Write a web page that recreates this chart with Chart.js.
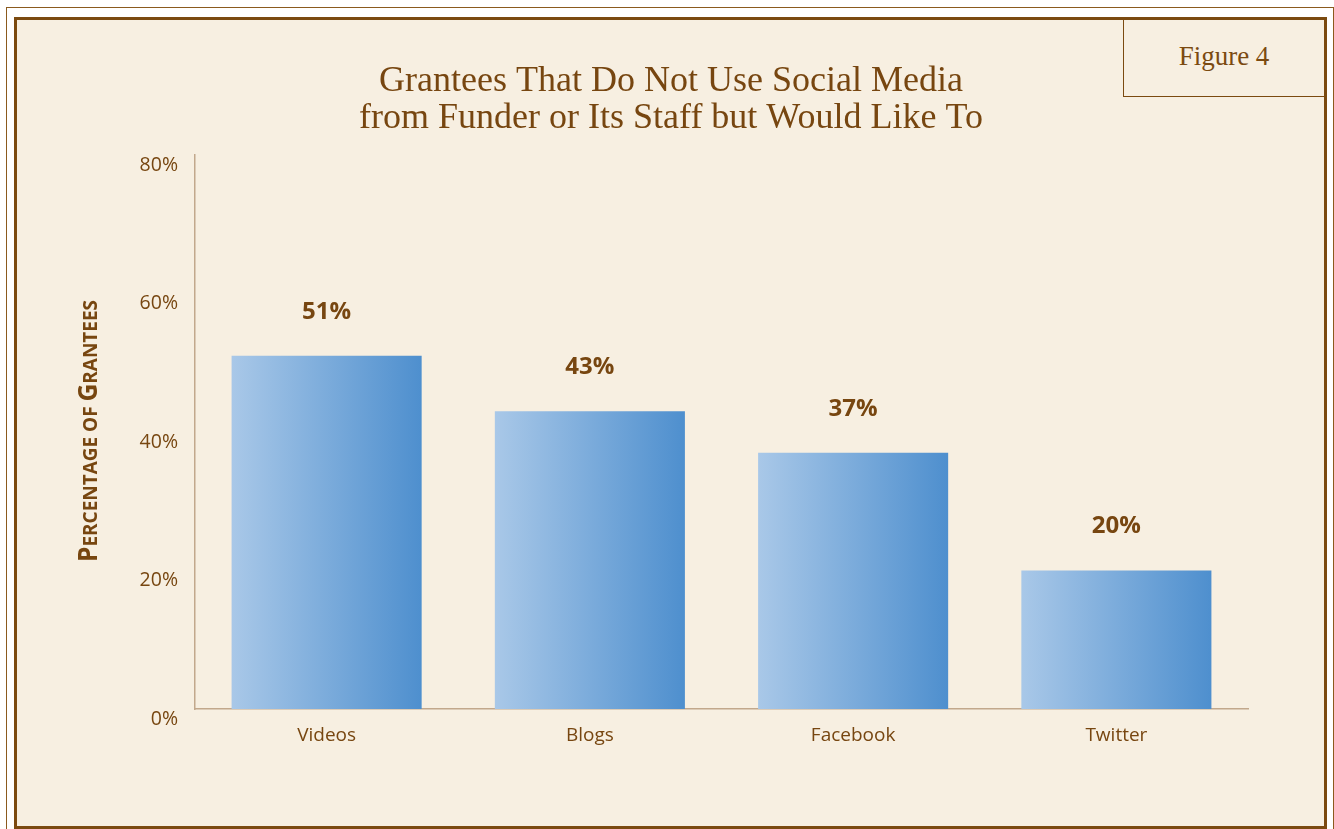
<!DOCTYPE html>
<html>
<head>
<meta charset="utf-8">
<script src="https://cdn.jsdelivr.net/npm/chart.js@4"></script>
<style>
body { margin: 0; background: #fff; width: 1334px; height: 829px; overflow: hidden; position: relative; }
#outer { position: absolute; left: 6px; top: 7px; width: 1328px; height: 900px; border: 1px solid #8b5a1e; box-sizing: border-box; }
#frame { position: absolute; left: 14px; top: 17px; width: 1313px; height: 812px; border: 3px solid #7b4a10; background: #f7efe1; box-sizing: border-box; }
#fig { position: absolute; left: 1123px; top: 20px; width: 201px; height: 77px; border-left: 1.5px solid #7b4a10; border-bottom: 1.5px solid #7b4a10; box-sizing: border-box;
  font-family: "Liberation Serif", serif; font-size: 27px; color: #7b4a10; text-align: center; line-height: 72px; }
#c { position: absolute; left: 0; top: 0; }
</style>
</head>
<body>
<div id="outer"></div>
<div id="frame"></div>
<div id="fig">Figure 4</div>
<canvas id="c" width="1334" height="829"></canvas>
<script>
var categories = ["Videos", "Blogs", "Facebook", "Twitter"];
var values = [51, 43, 37, 20];
var yTicks = [0, 20, 40, 60, 80];
var titleLines = ["Grantees That Do Not Use Social Media", "from Funder or Its Staff but Would Like To"];

var brown = '#774610';
var sans = '"Open Sans", sans-serif';
var barPct = 0.722;

// horizontal gradient across each bar
function barGradient(context) {
  var chart = context.chart;
  var xs = chart.scales.x;
  if (!chart.chartArea || !xs) return '#7fb0dc';
  var cx = xs.getPixelForValue(context.dataIndex);
  var half = xs.width / categories.length * barPct / 2;
  var g = chart.ctx.createLinearGradient(cx - half, 0, cx + half, 0);
  g.addColorStop(0, '#a9c8e8');
  g.addColorStop(1, '#4e8fce');
  return g;
}

var valueLabels = {
  id: 'valueLabels',
  afterDatasetsDraw: function(chart) {
    var ctx = chart.ctx;
    ctx.save();
    ctx.font = 'bold 24px ' + sans;
    ctx.fillStyle = brown;
    ctx.textAlign = 'center';
    ctx.textBaseline = 'middle';
    chart.getDatasetMeta(0).data.forEach(function(bar, i) {
      ctx.fillText(values[i] + '%', bar.x, bar.y - 44);
    });
    ctx.restore();
  }
};

// two-line serif title
var titleText = {
  id: 'titleText',
  afterDraw: function(chart) {
    var ctx = chart.ctx;
    ctx.save();
    ctx.font = '36px "Liberation Serif", serif';
    ctx.fillStyle = brown;
    ctx.textAlign = 'center';
    ctx.textBaseline = 'alphabetic';
    ctx.fillText(titleLines[0], 671, 91);
    ctx.fillText(titleLines[1], 671, 128);
    ctx.restore();
  }
};

// "Percentage of Grantees" in small caps, rotated
var axisTitle = {
  id: 'axisTitle',
  afterDraw: function(chart) {
    var ctx = chart.ctx;
    var parts = [['P', 26], ['ERCENTAGE OF ', 20], ['G', 26], ['RANTEES', 20]];
    ctx.save();
    var w = 0;
    parts.forEach(function(p) { ctx.font = 'bold ' + p[1] + 'px ' + sans; w += ctx.measureText(p[0]).width; });
    var target = 262;
    ctx.translate(97, 431);
    ctx.rotate(-Math.PI / 2);
    ctx.scale(target / w, 1);
    ctx.fillStyle = brown;
    ctx.textBaseline = 'alphabetic';
    var x = -w / 2;
    parts.forEach(function(p) {
      ctx.font = 'bold ' + p[1] + 'px ' + sans;
      ctx.fillText(p[0], x, 0);
      x += ctx.measureText(p[0]).width;
    });
    ctx.restore();
  }
};

new Chart(document.getElementById('c'), {
  type: 'bar',
  data: {
    labels: categories,
    datasets: [{
      data: values,
      backgroundColor: barGradient,
      borderWidth: 0,
      barPercentage: barPct,
      categoryPercentage: 1
    }]
  },
  options: {
    responsive: false,
    animation: false,
    layout: { padding: { left: 14, right: 86, top: 155, bottom: 20 } },
    plugins: {
      legend: { display: false },
      tooltip: { enabled: false },
      title: { display: false }
    },
    scales: {
      x: {
        grid: { display: false, drawTicks: false },
        border: { display: true, color: '#c2a88c', width: 1.5 },
        ticks: { color: brown, font: { family: sans, size: 19 }, padding: 15 },
        afterFit: function(scale) { scale.height = 100; }
      },
      y: {
        min: 0,
        max: 80,
        grid: { display: false, drawTicks: false },
        border: { display: true, color: '#c2a88c', width: 1.5 },
        afterBuildTicks: function(scale) { scale.ticks = yTicks.map(function(v) { return { value: v }; }); },
        ticks: {
          color: brown,
          font: { family: sans, size: 19.5 },
          padding: 17,
          labelOffset: 10,
          callback: function(v) { return v + '%'; }
        },
        afterFit: function(scale) { scale.width = 181; }
      }
    }
  },
  plugins: [valueLabels, titleText, axisTitle]
});
</script>
</body>
</html>
